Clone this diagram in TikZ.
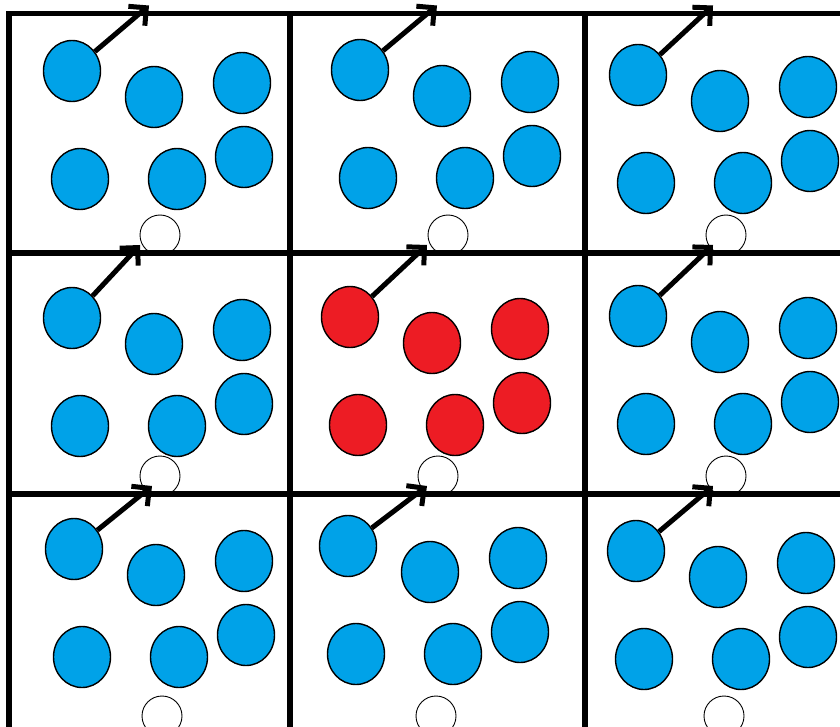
\documentclass[tikz,border=0pt]{standalone}
\usetikzlibrary{arrows.meta, shapes.geometric}
\definecolor{PaintBlue}{HTML}{00A2E8}
\definecolor{PaintRed}{HTML}{ED1C24}
\tikzset{
  wall/.style={line width=5.5pt, line cap=rect},
  disc/.style={ellipse, draw=black, line width=1.4pt, inner sep=0pt,
    minimum width=57pt, minimum height=61pt, fill=PaintBlue},
  ghost/.style={circle, draw=black, line width=0.9pt, inner sep=0pt,
    minimum size=40pt},
  hop/.style={-{Straight Barb[angle=90:18pt]}, line width=5pt},
}

\begin{document}
\begin{tikzpicture}[x=1pt, y=-1pt]
  \useasboundingbox (0,0) rectangle (840,727);
  \clip (0,0) rectangle (840,727);
  % one image of the box per cell: first disc, arrow tip x, row top, row bottom
  \foreach \n/\cx/\cy/\tx/\ytop/\ybot/\ink in {
      11/72/71/149/13.5/253/PaintBlue,
      12/360/70/437/13.5/253/PaintBlue,
      13/638/75/713/13.5/253/PaintBlue,
      21/72/318/140/253/494/PaintBlue,
      22/350/317/427/253/494/PaintRed,
      23/638/316/713/253/494/PaintBlue,
      31/74/549/152/494/734/PaintBlue,
      32/348/546/427/494/734/PaintBlue,
      33/636/551/713/494/734/PaintBlue} {
    \node[disc, fill=\ink] (d1-\n) at (\cx,\cy) {};
    \node[disc, fill=\ink] (d2-\n) at (\cx+82,\cy+26) {};
    \node[disc, fill=\ink] (d3-\n) at (\cx+170,\cy+12) {};
    \node[disc, fill=\ink] (d4-\n) at (\cx+8,\cy+108) {};
    \node[disc, fill=\ink] (d5-\n) at (\cx+105,\cy+108) {};
    \node[disc, fill=\ink] (d6-\n) at (\cx+172,\cy+86) {};
    \node[ghost] (g-\n) at (\cx+88,\ybot-18) {};
    \coordinate (t-\n) at (\tx,\ytop-8);
    \draw[hop] (d1-\n) -- (t-\n);
  }
  % cell walls
  \draw[wall] (9,727) -- (9,13.5) -- (840,13.5);
  \draw[wall] (290,13.5) -- (290,727);
  \draw[wall] (585,13.5) -- (585,727);
  \draw[wall] (9,253) -- (840,253);
  \draw[wall] (9,494) -- (840,494);
\end{tikzpicture}
\end{document}
